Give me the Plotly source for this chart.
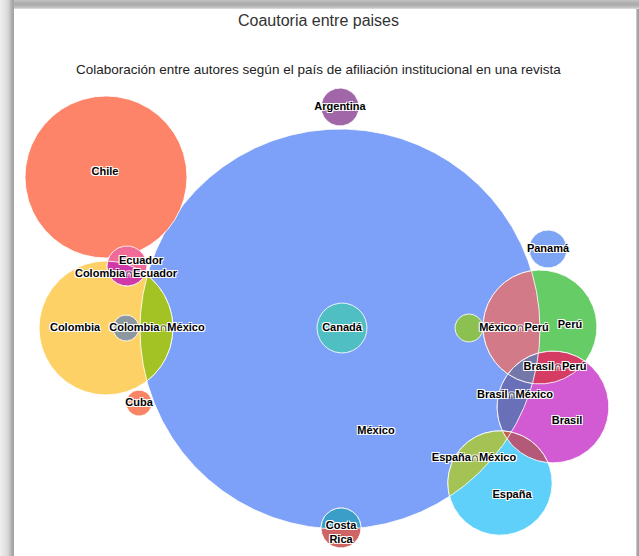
import numpy as np
import plotly.graph_objects as go

# ---------------- data ----------------
set_names = ["México", "Chile", "Colombia", "Perú", "Brasil", "España",
             "Argentina", "Ecuador", "Cuba", "Canadá", "Panamá", "Costa Rica",
             "set_gris", "set_verde"]
set_values = [100, 16.4, 11.2, 8.1, 7.8, 6.8,
              0.9, 1.0, 0.42, 1.56, 0.9, 1.0,
              0.42, 0.49]
intersections = [
    ("Colombia", "Ecuador"),
    ("Colombia", "México"),
    ("México", "Perú"),
    ("Brasil", "México"),
    ("Brasil", "Perú"),
    ("Brasil", "México", "Perú"),
    ("España", "México"),
    ("Brasil", "España"),
    ("Brasil", "España", "México"),
    ("Costa Rica", "México"),
]
title_text = "Coautoria entre paises"
subtitle_text = "Colaboración entre autores según el país de afiliación institucional en una revista"

# ---------------- layout (venn positions, units) ----------------
center_x = {"México": 0.0, "Chile": -11.7, "Colombia": -11.7, "Perú": 10.0,
            "Brasil": 10.65, "España": 8.0, "Argentina": 0.0, "Ecuador": -10.65,
            "Cuba": -10.05, "Canadá": 0.1, "Panamá": 10.4, "Costa Rica": 0.05,
            "set_gris": -10.7, "set_verde": 6.45}
center_y = {"México": 0.0, "Chile": 7.6, "Colombia": 0.05, "Perú": 0.1,
            "Brasil": -3.9, "España": -7.7, "Argentina": 11.1, "Ecuador": 3.15,
            "Cuba": -3.7, "Canadá": 0.05, "Panamá": 4.0, "Costa Rica": -9.95,
            "set_gris": 0.05, "set_verde": 0.05}

label_items = [
    ("México", "México", 1.8, -5.1),
    ("Chile", "Chile", -11.75, 7.85),
    ("Colombia", "Colombia", -13.25, 0.05),
    ("Argentina", "Argentina", 0.0, 11.1),
    ("Ecuador", "Ecuador", -9.95, 3.4),
    ("Colombia∩Ecuador", "Colombia∩Ecuador", -10.7, 2.75),
    ("Colombia∩México", "Colombia∩México", -9.15, 0.05),
    ("Cuba", "Cuba", -10.05, -3.7),
    ("Canadá", "Canadá", 0.1, 0.05),
    ("Panamá", "Panamá", 10.4, 4.0),
    ("México∩Perú", "México∩Perú", 8.7, 0.05),
    ("Perú", "Perú", 11.5, 0.2),
    ("Brasil∩Perú", "Brasil∩Perú", 10.75, -1.9),
    ("Brasil∩México", "Brasil∩México", 8.75, -3.3),
    ("Brasil", "Brasil", 11.35, -4.6),
    ("España∩México", "España∩México", 6.7, -6.45),
    ("España", "España", 8.6, -8.3),
    ("Costa Rica", "Costa<br>Rica", 0.05, -10.2),
]

colors = {
    "México": "#7da0f8", "Chile": "#fd8469", "Colombia": "#fdd165",
    "Perú": "#66cc66", "Brasil": "#d25ad2", "España": "#5fd0fa",
    "Argentina": "#a066a8", "Ecuador": "#f26a98", "Cuba": "#f98466",
    "Canadá": "#4fbfc4", "Panamá": "#7ea4f4", "Costa Rica": "#cf6464",
    "set_gris": "#8c97a0", "set_verde": "#8cc152",
    "Colombia∩Ecuador": "#cf3aa8", "Colombia∩México": "#a3c324",
    "México∩Perú": "#d27a88", "Brasil∩México": "#6a70b8",
    "Brasil∩Perú": "#d43c64", "Brasil∩México∩Perú": "#7378a8",
    "España∩México": "#a5c255", "Brasil∩España": "#b45a78",
    "Brasil∩España∩México": "#c06048", "Costa Rica∩México": "#3a9ec8",
}

radius = {n: float(np.sqrt(v)) for n, v in zip(set_names, set_values)}


def region_polygon(keys, n=900):
    xs, ys = [], []
    th = np.linspace(0, 2 * np.pi, n, endpoint=False)
    for k in keys:
        px = center_x[k] + radius[k] * np.cos(th)
        py = center_y[k] + radius[k] * np.sin(th)
        mask = np.ones(n, dtype=bool)
        for o in keys:
            if o == k:
                continue
            d = np.hypot(px - center_x[o], py - center_y[o])
            mask &= d <= radius[o] + 1e-9
        xs.extend(px[mask])
        ys.extend(py[mask])
    xs, ys = np.array(xs), np.array(ys)
    if len(xs) == 0:
        return None, None
    mx, my = xs.mean(), ys.mean()
    order = np.argsort(np.arctan2(ys - my, xs - mx))
    xs, ys = xs[order], ys[order]
    return np.append(xs, xs[0]), np.append(ys, ys[0])


fig = go.Figure()

for name in set_names:
    x, y = region_polygon([name])
    fig.add_trace(go.Scatter(
        x=x, y=y, mode="lines", fill="toself", fillcolor=colors[name],
        line=dict(color="rgba(255,255,255,0.85)", width=1),
        hoverinfo="text", text=name, showlegend=False))

for keys in intersections:
    key = "∩".join(keys)
    x, y = region_polygon(list(keys))
    if x is None:
        continue
    fig.add_trace(go.Scatter(
        x=x, y=y, mode="lines", fill="toself", fillcolor=colors[key],
        line=dict(color="rgba(255,255,255,0.85)", width=1),
        hoverinfo="text", text=key, showlegend=False))

fig.add_trace(go.Scatter(
    x=[it[2] for it in label_items], y=[it[3] for it in label_items],
    text=["<b>" + it[1] + "</b>" for it in label_items],
    mode="text", hoverinfo="skip", showlegend=False,
    textfont=dict(family="Liberation Sans, Arial, sans-serif", size=11, color="#000000",
                  shadow="1px 1px 0px #fff, -1px -1px 0px #fff, 1px -1px 0px #fff, -1px 1px 0px #fff"),
))

W, H = 639, 556
shapes = []
# frame shadow strips
left_cols = ["#eeeeee", "#ebebeb", "#e8e8e8", "#e6e6e6", "#e3e3e3", "#e0e0e0", "#dcdcdc",
             "#d8d8d8", "#d2d2d2", "#c8c8c8", "#bcbcbc", "#b0b0b0", "#a8a8a8", "#a4a4a4"]
for i, c in enumerate(left_cols):
    shapes.append(dict(type="rect", xref="paper", yref="paper", x0=i / W, x1=(i + 1) / W,
                       y0=0, y1=1, fillcolor=c, line=dict(width=0), layer="above"))
top_cols = ["#c0c0c0", "#b8b8b8", "#b2b2b2", "#aeaeae", "#acacac", "#b0b0b0", "#b8b8b8", "#c4c4c4", "#d8d8d8"]
for i, c in enumerate(top_cols):
    shapes.append(dict(type="rect", xref="paper", yref="paper", x0=len(left_cols) / W, x1=1,
                       y0=1 - (i + 1) / H, y1=1 - i / H, fillcolor=c, line=dict(width=0), layer="above"))
for i, c in enumerate(["#c8c8c8", "#a8a8a8", "#a0a0a0"]):
    shapes.append(dict(type="rect", xref="paper", yref="paper", x0=(636 + i) / W, x1=(637 + i) / W,
                       y0=0, y1=1 - 9 / H, fillcolor=c, line=dict(width=0), layer="above"))

fig.update_layout(
    width=W, height=H, margin=dict(l=0, r=0, t=0, b=0),
    paper_bgcolor="white", plot_bgcolor="white",
    xaxis=dict(range=[-17.0, 14.95], visible=False, fixedrange=True),
    yaxis=dict(range=[-11.35, 16.45], visible=False, fixedrange=True),
    shapes=shapes,
    annotations=[
        dict(text=title_text, x=318 / W, y=1 - 20 / H, xref="paper", yref="paper",
             showarrow=False, xanchor="center", yanchor="middle",
             font=dict(family="Liberation Sans, Arial, sans-serif", size=16, color="#333333")),
        dict(text=subtitle_text, x=318 / W, y=1 - 69 / H, xref="paper", yref="paper",
             showarrow=False, xanchor="center", yanchor="middle",
             font=dict(family="Liberation Sans, Arial, sans-serif", size=13.5, color="#222222")),
    ],
)

fig.write_html("out.html", config={"displayModeBar": False},
               post_script="document.body.style.margin='0px';")
